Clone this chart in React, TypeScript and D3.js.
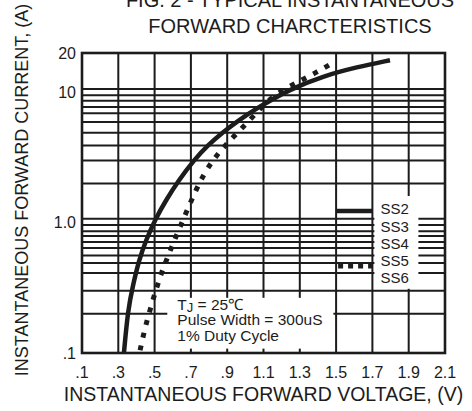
import React from "react";
import * as d3 from "d3";

// axis ticks
const xTicks = [0.1, 0.3, 0.5, 0.7, 0.9, 1.1, 1.3, 1.5, 1.7, 1.9, 2.1];
const xTickLabels = [".1", ".3", ".5", ".7", ".9", "1.1", "1.3", "1.5", "1.7", "1.9", "2.1"];
const yTicks = [0.1, 1, 10, 20];
const yTickLabels = [".1", "1.0", "10", "20"];

// horizontal grid lines as drawn on the original sheet (not a perfect log grid)
const yGrid = [0.2, 0.3, 0.41, 0.49, 0.56, 0.64, 0.71, 0.79, 0.86, 0.96, 1.07,
  2, 3, 3.9, 4.9, 5.9, 6.9, 7.7, 8.6, 9.5, 10.6];

// SS2-SS4 (solid)
const solidV = [0.331, 0.353, 0.381, 0.414, 0.453, 0.502, 0.563, 0.634, 0.717, 0.794, 0.877, 0.965, 1.064, 1.246, 1.428, 1.615, 1.797];
const solidI = [0.1, 0.214, 0.332, 0.516, 0.735, 1.05, 1.49, 2.12, 3.02, 3.93, 4.95, 6.12, 7.56, 10.57, 13.3, 15.6, 17.6];

// SS5-SS6 (dotted)
const dottedV = [0.42, 0.447, 0.475, 0.502, 0.53, 0.563, 0.601, 0.64, 0.684, 0.728, 0.772, 0.822, 0.871, 0.932, 1.026, 1.108, 1.202, 1.301, 1.395, 1.488];
const dottedI = [0.105, 0.156, 0.214, 0.288, 0.383, 0.508, 0.685, 0.925, 1.29, 1.78, 2.36, 3.02, 3.66, 4.53, 6.12, 8.26, 10.4, 12.2, 14.3, 17.0];

const legendLabels = ["SS2", "SS3", "SS4", "SS5", "SS6"];
const noteLines = ["Pulse Width = 300uS", "1% Duty Cycle"];

const W = 472, H = 411;
const margin = { left: 82, right: 27, top: 53, bottom: 58 };
const ink = "#1c1c1c";
const font = "'Liberation Sans', Arial, sans-serif";

export default function App() {
  const x = d3.scaleLinear().domain([0.1, 2.1]).range([margin.left, W - margin.right]);
  const y = d3.scaleLog().domain([0.1, 20]).range([H - margin.bottom, margin.top]);

  const line = d3.line<[number, number]>()
    .x(d => x(d[0]))
    .y(d => y(d[1]))
    .curve(d3.curveBasis);

  const solid = line(solidV.map((v, i) => [v, solidI[i]]));
  const dotted = line(dottedV.map((v, i) => [v, dottedI[i]]));

  const [x0, x1] = x.range();
  const [y0, y1] = y.range();

  // white boxes for legend and note
  const legX = x(1.7) + 2, legW = 44;
  const legTop = y(1.6), legBot = y(0.3) - 2;
  const noteX = x(0.57), noteR = x(1.485);
  const noteTop = y(0.265), noteBot = y(0.108);

  const rowY = (i: number) => legTop + 13 + i * 17.3;

  return (
    <svg width={W} height={H} style={{ position: "absolute", left: 0, top: 0, background: "#fff" }}
      fontFamily={font}>
      <rect width={W} height={H} fill="#fff" />
      {/* grid */}
      {xTicks.slice(1, -1).map(v => (
        <line key={"vx" + v} x1={x(v)} x2={x(v)} y1={y1} y2={y0} stroke={ink} strokeWidth={2} />
      ))}
      {yGrid.map(v => (
        <line key={"hy" + v} x1={x0} x2={x1} y1={y(v)} y2={y(v)} stroke={ink} strokeWidth={2} />
      ))}
      <rect x={legX} y={legTop} width={legW} height={legBot - legTop} fill="#fff" />
      <rect x={noteX} y={noteTop} width={noteR - noteX} height={noteBot - noteTop} fill="#fff" />
      <rect x={x0} y={y1} width={x1 - x0} height={y0 - y1} fill="none" stroke={ink} strokeWidth={2.6} />

      {/* curves */}
      <path d={solid ?? ""} fill="none" stroke={ink} strokeWidth={4.5} />
      <path d={dotted ?? ""} fill="none" stroke={ink} strokeWidth={5} strokeDasharray="5 8" />

      {/* legend */}
      <line x1={x(1.5)} x2={x(1.7)} y1={rowY(0) + 2} y2={rowY(0) + 2} stroke={ink} strokeWidth={4.5} />
      <line x1={x(1.5) + 2} x2={x(1.7)} y1={rowY(3) + 5} y2={rowY(3) + 5} stroke={ink} strokeWidth={5} strokeDasharray="5 5" />
      {legendLabels.map((s, i) => (
        <text key={s} x={legX + 6} y={rowY(i)} dy="0.35em" fontSize={15} fill={ink}>{s}</text>
      ))}

      {/* note */}
      <text x={noteX + 10} y={noteTop + 12} fontSize={15.5} fill={ink}>
        T<tspan fontSize={13} dy={2}>J</tspan><tspan dy={-2}> = 25℃</tspan>
      </text>
      {noteLines.map((s, i) => (
        <text key={s} x={noteX + 10} y={noteTop + 27.5 + i * 15.5} fontSize={15.5} fill={ink}>{s}</text>
      ))}

      {/* axis labels */}
      {xTicks.map((v, i) => (
        <text key={"xt" + v} x={x(v)} y={y0 + 25} textAnchor="middle" fontSize={16} fill={ink}>{xTickLabels[i]}</text>
      ))}
      {yTicks.map((v, i) => (
        <text key={"yt" + v} x={x0 - 6} y={y(v)} dy="0.35em" textAnchor="end" fontSize={16} fill={ink}>{yTickLabels[i]}</text>
      ))}
      <text x={(x0 + x1) / 2} y={401} textAnchor="middle" fontSize={19.5} fill={ink}>
        INSTANTANEOUS FORWARD VOLTAGE, (V)
      </text>
      <text transform={`translate(28, 190) rotate(-90)`} textAnchor="middle" fontSize={18} fill={ink}>
        INSTANTANEOUS FORWARD CURRENT, (A)
      </text>
      <text x={290} y={7} textAnchor="middle" fontSize={20} fill={ink}>FIG. 2 - TYPICAL INSTANTANEOUS</text>
      <text x={290} y={33} textAnchor="middle" fontSize={20} fill={ink}>FORWARD CHARCTERISTICS</text>
    </svg>
  );
}
